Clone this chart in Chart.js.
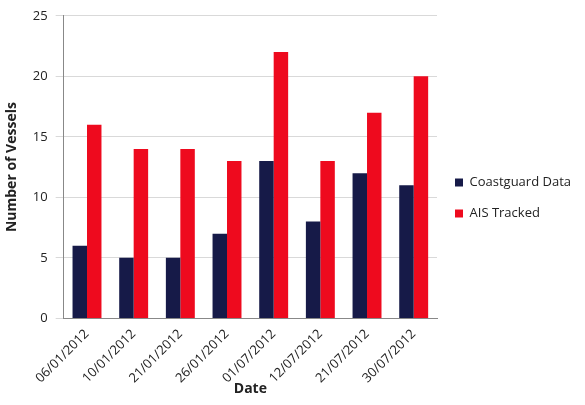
<!DOCTYPE html>
<html><head><meta charset="utf-8">
<script src="https://cdn.jsdelivr.net/npm/chart.js@4"></script>
<style>html,body{margin:0;padding:0;background:#fff}#w{width:585px;height:405px}</style>
</head><body><div id="w"><canvas id="c"></canvas></div>
<script>
const categories = ["06/01/2012","10/01/2012","21/01/2012","26/01/2012","01/07/2012","12/07/2012","21/07/2012","30/07/2012"];
const coastguard = [6,5,5,7,13,8,12,11];
const ais = [16,14,14,13,22,13,17,20];
const yTicks = [0,5,10,15,20,25];
Chart.defaults.font.family = "'Open Sans', sans-serif";
Chart.defaults.color = "#222";
new Chart(document.getElementById('c'), {
  type: 'bar',
  data: { labels: categories, datasets: [
    {label:'Coastguard Data', data: coastguard, backgroundColor:'#161a48'},
    {label:'AIS Tracked', data: ais, backgroundColor:'#ee0a1e'}
  ]},
  options: {
    responsive:true, maintainAspectRatio:false, animation:false,
    layout:{padding:{top:-5,right:4,left:0,bottom:4}},
    datasets:{bar:{categoryPercentage:0.62,barPercentage:1}},
    plugins:{legend:{position:'right',align:'center',labels:{boxWidth:8,boxHeight:8,padding:18,font:{size:13}}},tooltip:{enabled:false}},
    scales:{
      x:{grid:{display:false},border:{color:'#888'},ticks:{maxRotation:45,minRotation:45,font:{size:13},padding:0},
         afterFit:a=>{a.height-=6;},
         title:{display:true,text:'Date',font:{size:14,weight:'bold'},padding:{top:0}}},
      y:{min:0,max:25,afterBuildTicks:a=>{a.ticks=yTicks.map(v=>({value:v}));},
         grid:{color:'#d9d9d9'},border:{display:true,color:'#888'},ticks:{font:{size:13},padding:8},
         title:{display:true,text:'Number of Vessels',font:{size:14,weight:'bold'}}}
    }
  }
});
</script></body></html>
